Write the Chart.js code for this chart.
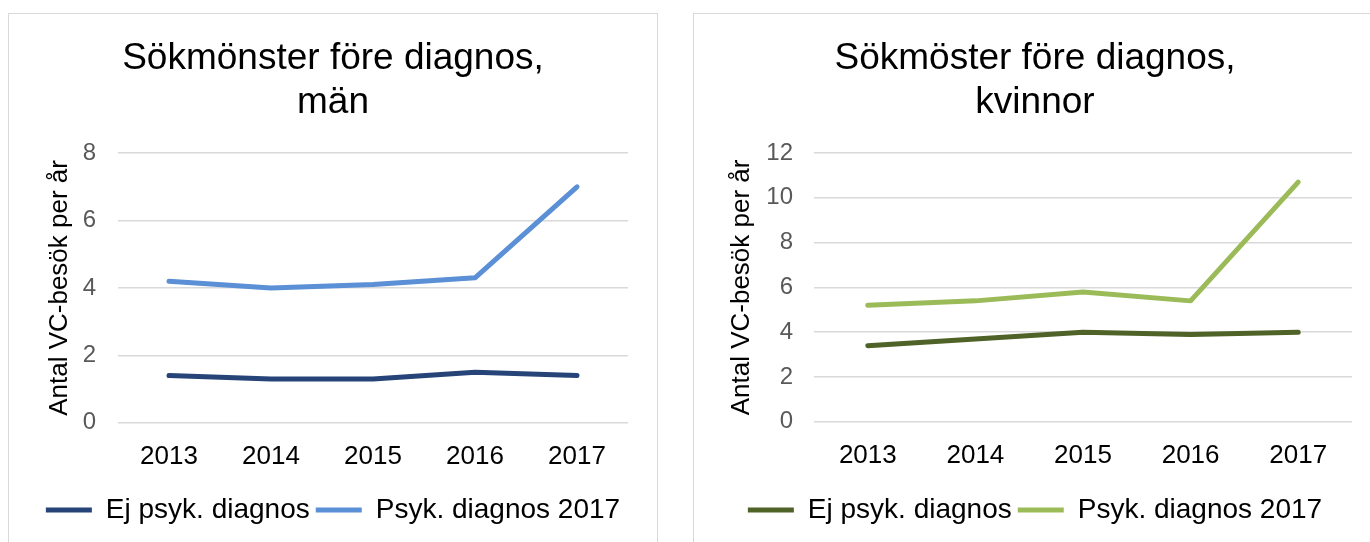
<!DOCTYPE html>
<html>
<head>
<meta charset="utf-8">
<script src="https://cdn.jsdelivr.net/npm/chart.js@4.4.1/dist/chart.umd.min.js"></script>
<style>
  html, body { margin: 0; padding: 0; background: #fff; width: 1370px; height: 542px; overflow: hidden; }
  .box { position: absolute; top: 13px; border: 1px solid #d9d9d9; border-bottom: none; }
  #boxMen { left: 8px; width: 648px; height: 529px; }
  #boxWomen { left: 693px; width: 682px; height: 529px; }
</style>
</head>
<body>
<div class="box" id="boxMen"><canvas id="menChart"></canvas></div>
<div class="box" id="boxWomen"><canvas id="womenChart"></canvas></div>
<script>
// Data
const years = ['2013', '2014', '2015', '2016', '2017'];
const seriesNames = ['Ej psyk. diagnos', 'Psyk. diagnos 2017'];

const menNoDiagnosis = [1.4, 1.3, 1.3, 1.5, 1.4];
const menDiagnosis = [4.2, 4.0, 4.1, 4.3, 7.0];
const menTicks = [0, 2, 4, 6, 8];

const womenNoDiagnosis = [3.4, 3.7, 4.0, 3.9, 4.0];
const womenDiagnosis = [5.2, 5.4, 5.8, 5.4, 10.7];
const womenTicks = [0, 2, 4, 6, 8, 10, 12];

Chart.defaults.font.family = "'Liberation Sans', Arial, sans-serif";
Chart.defaults.color = '#000';

// Build one line chart config
const buildConfig = (title, values, colors, ticks, layout) => {
  return {
    type: 'line',
    data: {
      labels: years,
      datasets: values.map((v, i) => ({
        label: seriesNames[i],
        data: v,
        borderColor: colors[i],
        backgroundColor: colors[i],
        borderWidth: 5,
        borderCapStyle: 'round',
        borderJoinStyle: 'round',
        pointRadius: 0,
        tension: 0
      }))
    },
    options: {
      responsive: true,
      maintainAspectRatio: false,
      animation: false,
      layout: { padding: { left: layout.side, right: layout.side, top: 0, bottom: 9 } },
      plugins: {
        title: {
          display: true,
          text: title,
          color: '#000',
          font: { size: 37, weight: 'normal', lineHeight: 1.19 },
          padding: { top: 23, bottom: 28 }
        },
        legend: {
          position: 'bottom',
          labels: {
            usePointStyle: true,
            pointStyle: 'line',
            pointStyleWidth: 46,
            color: '#000',
            font: { size: 28 },
            padding: 6
          }
        },
        tooltip: { enabled: false }
      },
      scales: {
        x: {
          offset: true,
          afterFit: (scale) => { scale.height += layout.xExtra; },
          grid: { display: false },
          border: { display: false },
          ticks: { color: '#000', font: { size: 26 }, padding: 10 }
        },
        y: {
          min: ticks[0],
          max: ticks[ticks.length - 1],
          afterFit: (scale) => { scale.width = layout.axisWidth; },
          afterBuildTicks: (scale) => { scale.ticks = ticks.map(t => ({ value: t })); },
          grid: { color: '#d9d9d9', lineWidth: 1.5, drawTicks: false },
          border: { display: false },
          ticks: { color: '#595959', font: { size: 24 }, padding: layout.tickGap },
          title: {
            display: true,
            text: 'Antal VC-besök per år',
            color: '#000',
            font: { size: 26 },
            padding: { top: layout.titleGap, bottom: 0 }
          }
        }
      }
    }
  };
};

const menChart = new Chart(document.getElementById('menChart'), buildConfig(
  ['Sökmönster före diagnos,', 'män'],
  [menNoDiagnosis, menDiagnosis],
  ['#264478', '#5b8fd6'],
  menTicks,
  { side: 29, axisWidth: 80, tickGap: 22, titleGap: 6, xExtra: 8 }
));

const womenChart = new Chart(document.getElementById('womenChart'), buildConfig(
  ['Sökmöster före diagnos,', 'kvinnor'],
  [womenNoDiagnosis, womenDiagnosis],
  ['#4f6228', '#9bbb59'],
  womenTicks,
  { side: 24, axisWidth: 96, tickGap: 21, titleGap: 8, xExtra: 9 }
));
</script>
</body>
</html>
